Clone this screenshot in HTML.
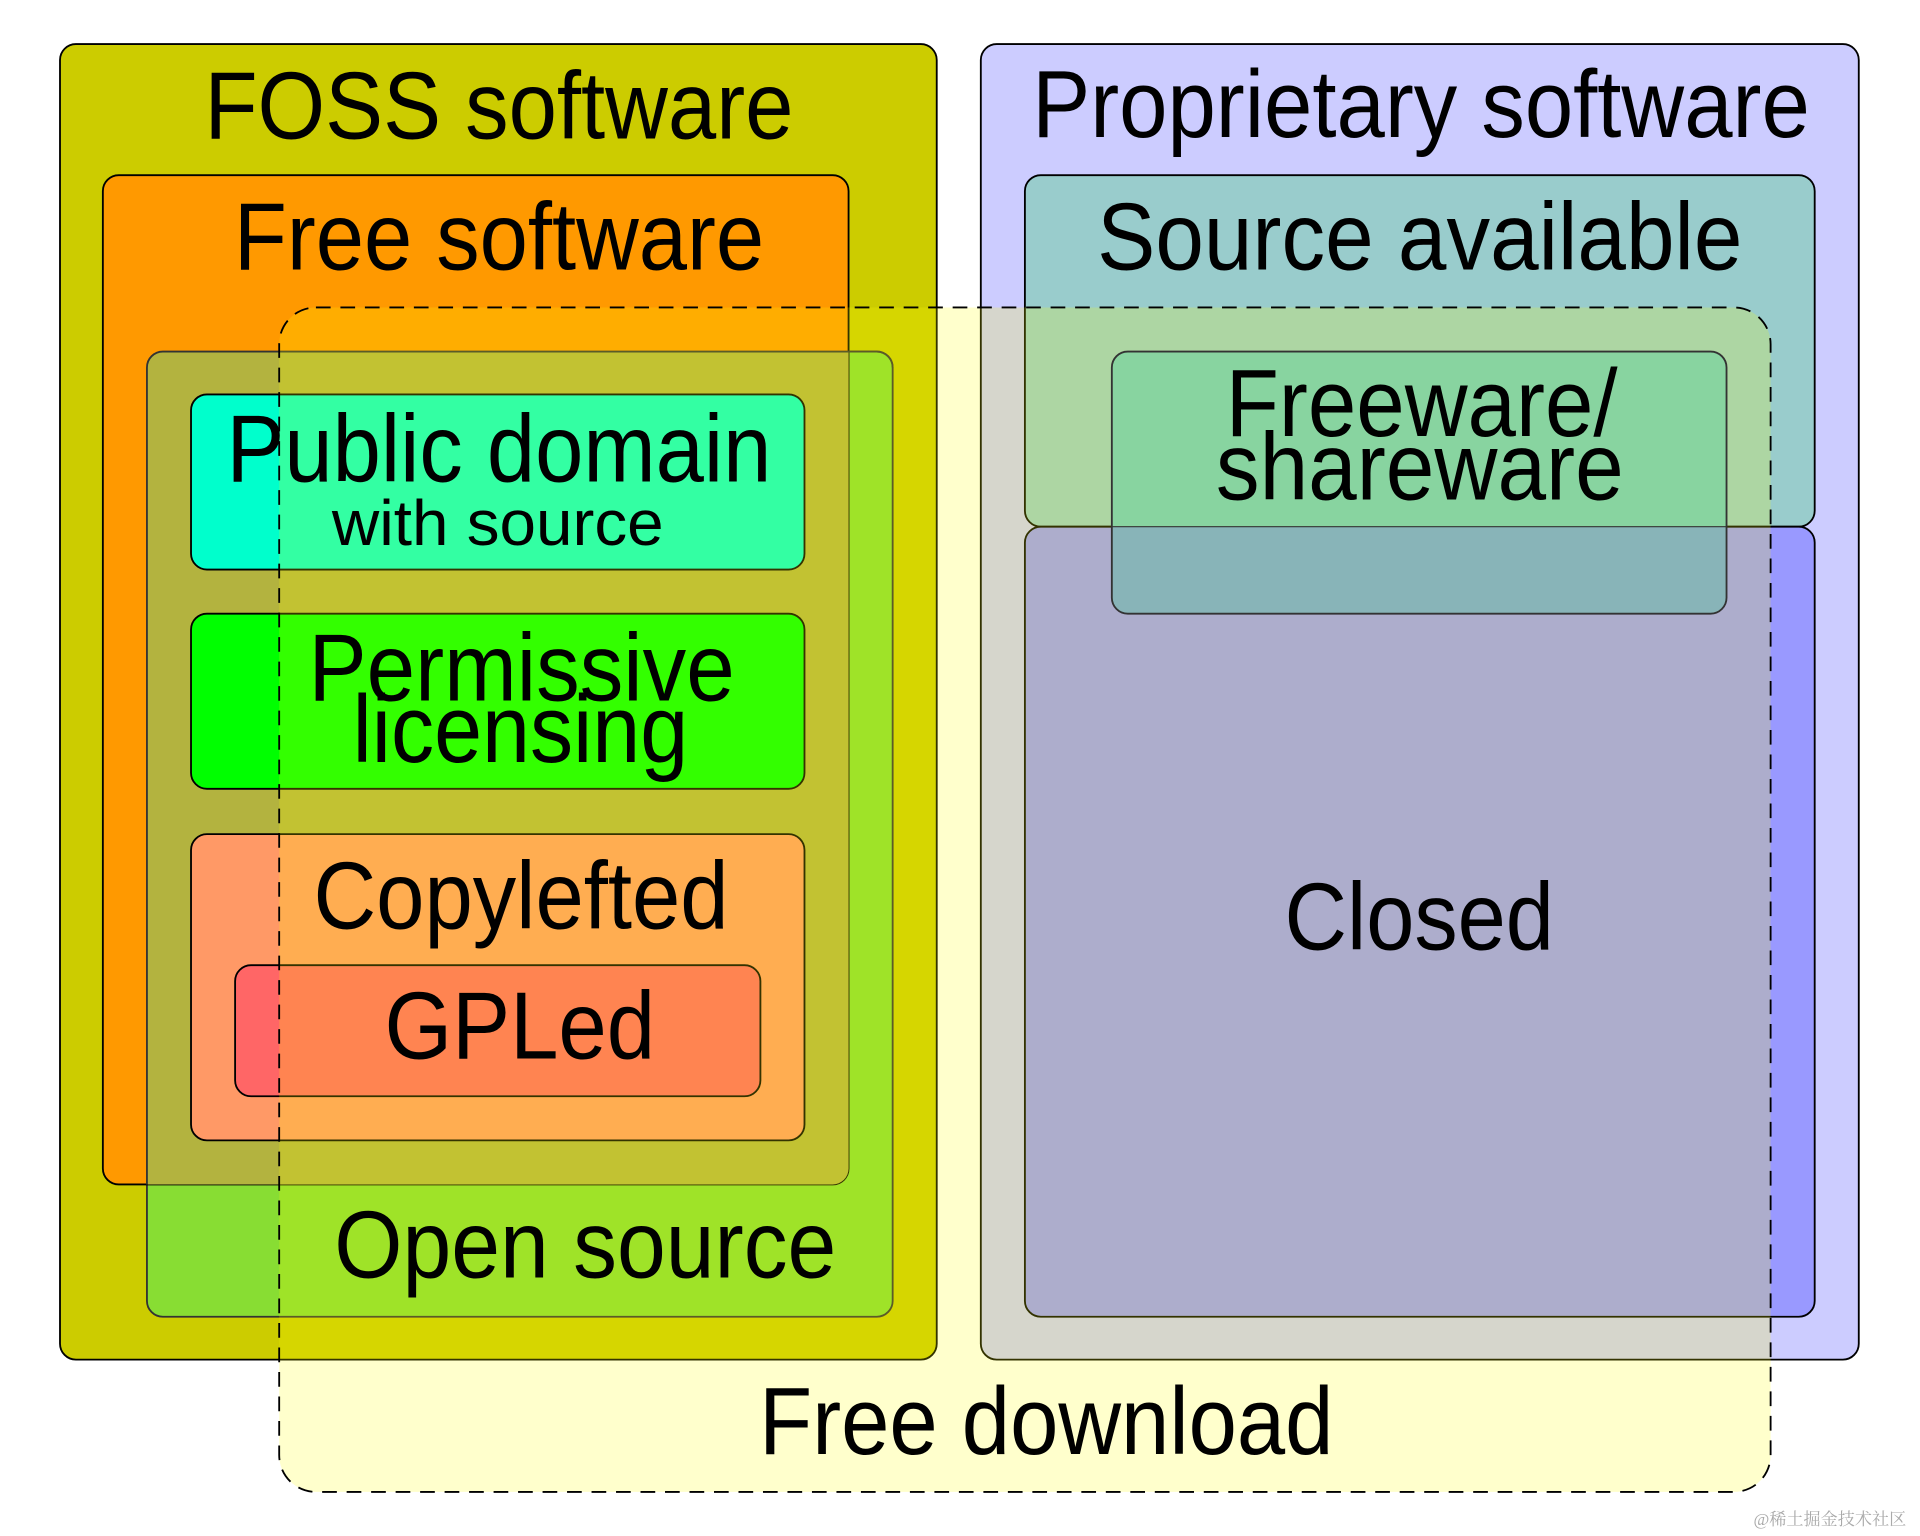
<!DOCTYPE html>
<html><head><meta charset="utf-8"><style>html,body{margin:0;padding:0;background:#fff}svg{display:block}text{font-family:"Liberation Sans",Arial,sans-serif;fill:#000}</style></head>
<body>
<svg width="1920" height="1536" viewBox="0 0 1568 1254" preserveAspectRatio="none" xmlns="http://www.w3.org/2000/svg">
<rect width="1568" height="1254" fill="#fff"/>
<g stroke="#000" stroke-width="1.5">
<rect x="49" y="36" width="716" height="1074" rx="13" fill="#cccc00"/>
<rect x="801" y="36" width="717" height="1074" rx="13" fill="#ccccff"/>
<rect x="120" y="287" width="609" height="788" rx="13" fill="#88dd33" stroke="#333"/>
<rect x="84" y="143" width="609" height="824" rx="13" fill="#ff9900"/>
<path d="M120,300 a13,13 0 0 1 13,-13 H693 V954 a13,13 0 0 1 -13,13 H120 Z" fill="#b3b33f" stroke="none"/>
<path d="M120,967 V300 a13,13 0 0 1 13,-13 H716 a13,13 0 0 1 13,13" fill="none" stroke="#333"/>
<rect x="837" y="143" width="645" height="287" rx="13" fill="#99cccc"/>
<rect x="837" y="430" width="645" height="645" rx="13" fill="#9999ff"/>
<rect x="156" y="322" width="501" height="143" rx="13" fill="#00ffcc"/>
<rect x="156" y="501" width="501" height="143" rx="13" fill="#00ff00"/>
<rect x="156" y="681" width="501" height="250" rx="13" fill="#ff9966"/>
<rect x="192" y="788" width="429" height="107" rx="13" fill="#ff6666"/>
</g>
<rect x="228" y="251" width="1218" height="967" rx="30" fill="rgba(255,255,0,0.2)" stroke="#000" stroke-width="1.5" stroke-dasharray="12,8"/>
<path d="M908,430 V300 a13,13 0 0 1 13,-13 H1397 a13,13 0 0 1 13,13 V430 Z" fill="#88d4a0"/>
<path d="M908,430 V488 a13,13 0 0 0 13,13 H1397 a13,13 0 0 0 13,-13 V430 Z" fill="#88b4b8"/>
<rect x="908" y="287" width="502" height="214" rx="13" fill="none" stroke="#333" stroke-width="1.5"/>
<line x1="908" y1="430" x2="1410" y2="430" stroke="#333" stroke-width="1"/>
<g font-size="78">
<text x="167" y="113" textLength="481" lengthAdjust="spacingAndGlyphs">FOSS software</text>
<text x="843" y="112" textLength="635" lengthAdjust="spacingAndGlyphs">Proprietary software</text>
<text x="191" y="220" textLength="433" lengthAdjust="spacingAndGlyphs">Free software</text>
<text x="896" y="220" textLength="527" lengthAdjust="spacingAndGlyphs">Source available</text>
<text x="185" y="393" textLength="445" lengthAdjust="spacingAndGlyphs">Public domain</text>
<text x="252" y="572" textLength="348" lengthAdjust="spacingAndGlyphs">Permissive</text>
<text x="288" y="622" textLength="274" lengthAdjust="spacingAndGlyphs">licensing</text>
<text x="1001" y="356" textLength="320" lengthAdjust="spacingAndGlyphs">Freeware/</text>
<text x="993" y="408" textLength="333" lengthAdjust="spacingAndGlyphs">shareware</text>
<text x="256" y="758" textLength="339" lengthAdjust="spacingAndGlyphs">Copylefted</text>
<text x="314" y="864" textLength="221" lengthAdjust="spacingAndGlyphs">GPLed</text>
<text x="1049" y="775" textLength="220" lengthAdjust="spacingAndGlyphs">Closed</text>
<text x="273" y="1043" textLength="410" lengthAdjust="spacingAndGlyphs">Open source</text>
<text x="620" y="1187" textLength="469" lengthAdjust="spacingAndGlyphs">Free download</text>
</g>
<text x="271" y="445" font-size="52" textLength="271" lengthAdjust="spacingAndGlyphs">with source</text>
<text x="1432" y="1245" font-size="14" style="fill:#aaa;font-family:'Liberation Serif','Noto Serif CJK SC',serif">@稀土掘金技术社区</text>
</svg>
</body></html>
